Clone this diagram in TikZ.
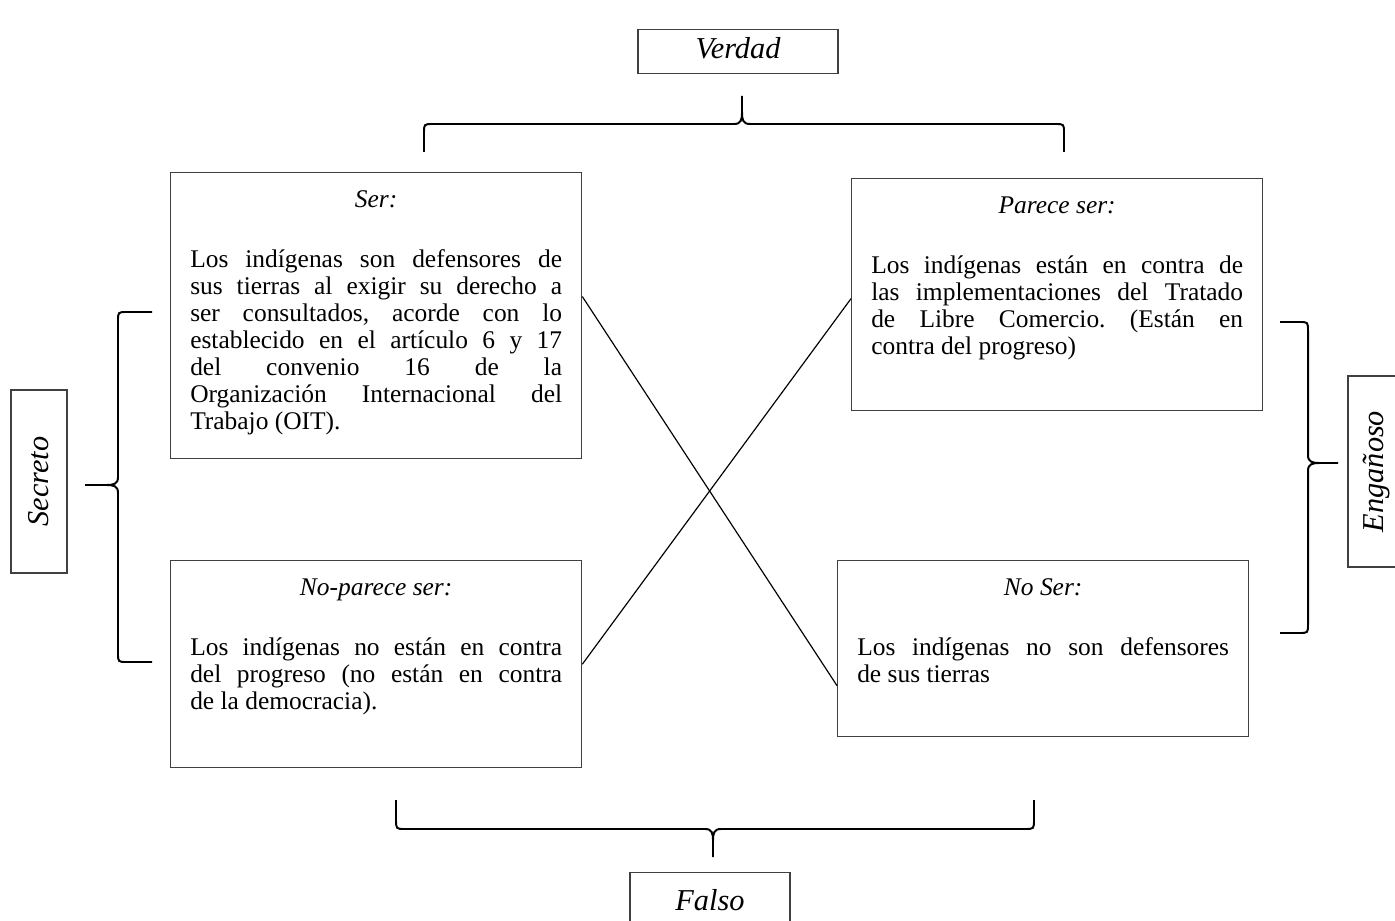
\documentclass[tikz,border=0pt]{standalone}
\usepackage{fontspec}
\setmainfont{Liberation Serif}
\hbadness=10000
\frenchspacing
\tikzset{
  card/.style={draw=black!75, line width=0.7pt, anchor=north west,
    inner xsep=10pt, inner ysep=0pt, font=\fontsize{13}{13.8}\selectfont},
  tag/.style={draw=black!75, line width=0.7pt, inner sep=0pt,
    font=\fontsize{15.5}{16}\selectfont\itshape},
  brace/.style={line width=1pt}
}
\begin{document}
\begin{tikzpicture}[x=0.511pt, y=-0.511pt]
  \useasboundingbox (0,0) rectangle (1395,921);
  % the four boxes of the square
  \node[card] (ser) at (170,172) {\parbox[c][146pt][t]{190pt}{\vspace*{8pt}%
    {\centering\strut\textit{Ser:}\par}\vspace{17pt}%
    Los indígenas son defensores de\linebreak
    sus tierras al exigir su derecho a\linebreak
    ser consultados, acorde con lo\linebreak
    establecido en el artículo 6 y 17\linebreak
    del convenio 16 de la\linebreak
    Organización Internacional del\linebreak
    Trabajo (OIT).}};
  \node[card] (parece) at (851,178) {\parbox[c][118.6pt][t]{190pt}{\vspace*{8pt}%
    {\centering\strut\textit{Parece ser:}\par}\vspace{17pt}%
    Los indígenas están en contra de\linebreak
    las implementaciones del Tratado\linebreak
    de Libre Comercio. (Están en\linebreak
    contra del progreso)}};
  \node[card] (noparece) at (170,560) {\parbox[c][105.8pt][t]{190pt}{\vspace*{8pt}%
    {\centering\strut\textit{No-parece ser:}\par}\vspace{17pt}%
    Los indígenas no están en contra\linebreak
    del progreso (no están en contra\linebreak
    de la democracia).}};
  \node[card] (noser) at (837,560) {\parbox[c][89.9pt][t]{190pt}{\vspace*{8pt}%
    {\centering\strut\textit{No Ser:}\par}\vspace{17pt}%
    Los indígenas no son defensores\linebreak
    de sus tierras}};
  % the four labels
  \node[tag, minimum width=102.2pt, text height=14.5pt, text depth=8pt, anchor=north] (verdad) at (738,29) {Verdad};
  \node[tag, minimum width=81.8pt, text height=19.4pt, text depth=9.2pt, anchor=north] (falso) at (710,872) {Falso};
  \node[tag, rotate=90, minimum width=93.5pt, minimum height=28.6pt] (secreto) at (39,481.5) {Secreto};
  \node[tag, rotate=90, minimum width=97.6pt, minimum height=28.6pt] (enganoso) at (1376,471.5) {Engañoso};
  % crossing lines
  \draw[line width=0.6pt] ([yshift=9.7pt]ser.east) -- ([yshift=-18.9pt]noser.west);
  \draw[line width=0.6pt] (noparece.east) -- ([yshift=-2pt]parece.west);
  % braces
  \draw[brace] (424,152) -- (424,133) .. controls (424,124) .. (433,124)
    -- (734,124) .. controls (741,124) and (742,120) .. (742,112) -- (742,96)
    (742,112) .. controls (742,120) and (743,124) .. (750,124)
    -- (1055,124) .. controls (1064,124) .. (1064,133) -- (1064,152);
  \draw[brace] (396,800) -- (396,819) .. controls (396,829) .. (405,829)
    -- (705,829) .. controls (712,829) and (713,833) .. (713,841) -- (713,857)
    (713,841) .. controls (713,833) and (714,829) .. (721,829)
    -- (1025,829) .. controls (1034,829) .. (1034,819) -- (1034,800);
  \draw[brace] (152,312) -- (127,312) .. controls (118,312) .. (118,321)
    -- (118,477) .. controls (118,484) and (114,485) .. (106,485) -- (85,485)
    (106,485) .. controls (114,485) and (118,486) .. (118,493)
    -- (118,653) .. controls (118,662) .. (127,662) -- (152,662);
  \draw[brace] (1280,322) -- (1299,322) .. controls (1308,322) .. (1308,331)
    -- (1308,455) .. controls (1308,462) and (1312,463) .. (1320,463) -- (1338,463)
    (1320,463) .. controls (1312,463) and (1308,464) .. (1308,471)
    -- (1308,624) .. controls (1308,633) .. (1299,633) -- (1280,633);
\end{tikzpicture}
\end{document}
